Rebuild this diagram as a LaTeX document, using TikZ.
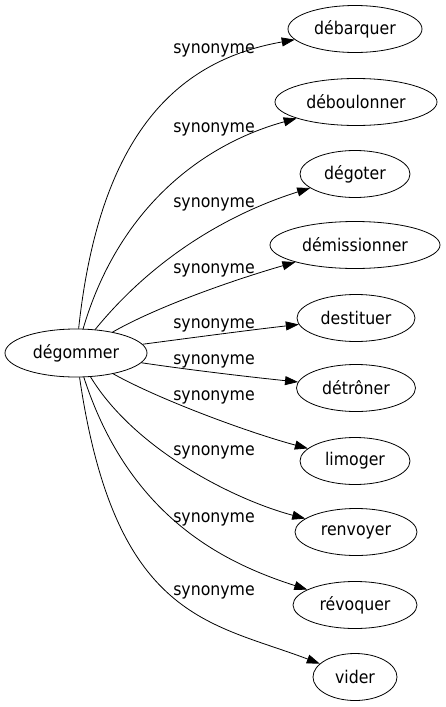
\documentclass[tikz,border=0pt]{standalone}
\usepackage{fontspec}
\setmainfont{DejaVu Sans Condensed}
\usetikzlibrary{arrows.meta,shapes.geometric}
\tikzset{
  word/.style={ellipse,draw,line width=0.8pt,inner sep=0pt,minimum height=47pt,font=\fontsize{17.5}{20}\selectfont},
  rel/.style={line width=0.8pt,-{Triangle[length=13pt,width=9pt]}},
  lab/.style={anchor=base,inner sep=0pt,font=\fontsize{17.5}{20}\selectfont}
}
\begin{document}
\begin{tikzpicture}[x=1pt,y=-1pt]
\useasboundingbox (0,0) rectangle (445,707);
\node[word,minimum width=142pt,minimum height=48pt] (src) at (76,353) {dégommer};
\node[word,minimum width=134pt] (t1) at (355,29) {débarquer};
\node[word,minimum width=162pt] (t2) at (356,102) {déboulonner};
\node[word,minimum width=110pt] (t3) at (355,174) {dégoter};
\node[word,minimum width=170pt] (t4) at (355,245) {démissionner};
\node[word,minimum width=118pt] (t5) at (356,318) {destituer};
\node[word,minimum width=119pt] (t6) at (356,388) {détrôner};
\node[word,minimum width=110pt] (t7) at (355,461) {limoger};
\node[word,minimum width=122pt] (t8) at (356,532) {renvoyer};
\node[word,minimum width=124pt] (t9) at (355,605) {révoquer};
\node[word,minimum width=84pt] (t10) at (355,677) {vider};

\draw[rel] (src) .. controls (100,130) and (180,60) .. (t1);
\draw[rel] (src) .. controls (118,210) and (200,145) .. (t2);
\draw[rel] (src) .. controls (160,250) and (240,210) .. (t3);
\draw[rel] (src) .. controls (160,305) and (240,278) .. (t4);
\draw[rel] (src) .. controls (190,338) and (250,330) .. (t5);
\draw[rel] (src) .. controls (190,370) and (250,377) .. (t6);
\draw[rel] (src) .. controls (160,400) and (250,433) .. (t7);
\draw[rel] (src) .. controls (135,450) and (235,500) .. (t8);
\draw[rel] (src) .. controls (130,520) and (228,564) .. (t9);
\draw[rel] (src) .. controls (115,620) and (210,622) .. (t10);

\node[lab] (l1) at (214,53) {synonyme};
\node[lab] (l2) at (214,132) {synonyme};
\node[lab] (l3) at (214,207) {synonyme};
\node[lab] (l4) at (214,273) {synonyme};
\node[lab] (l5) at (214,328) {synonyme};
\node[lab] (l6) at (214,364) {synonyme};
\node[lab] (l7) at (214,400) {synonyme};
\node[lab] (l8) at (214,455) {synonyme};
\node[lab] (l9) at (214,522) {synonyme};
\node[lab] (l10) at (214,595) {synonyme};
\end{tikzpicture}
\end{document}
